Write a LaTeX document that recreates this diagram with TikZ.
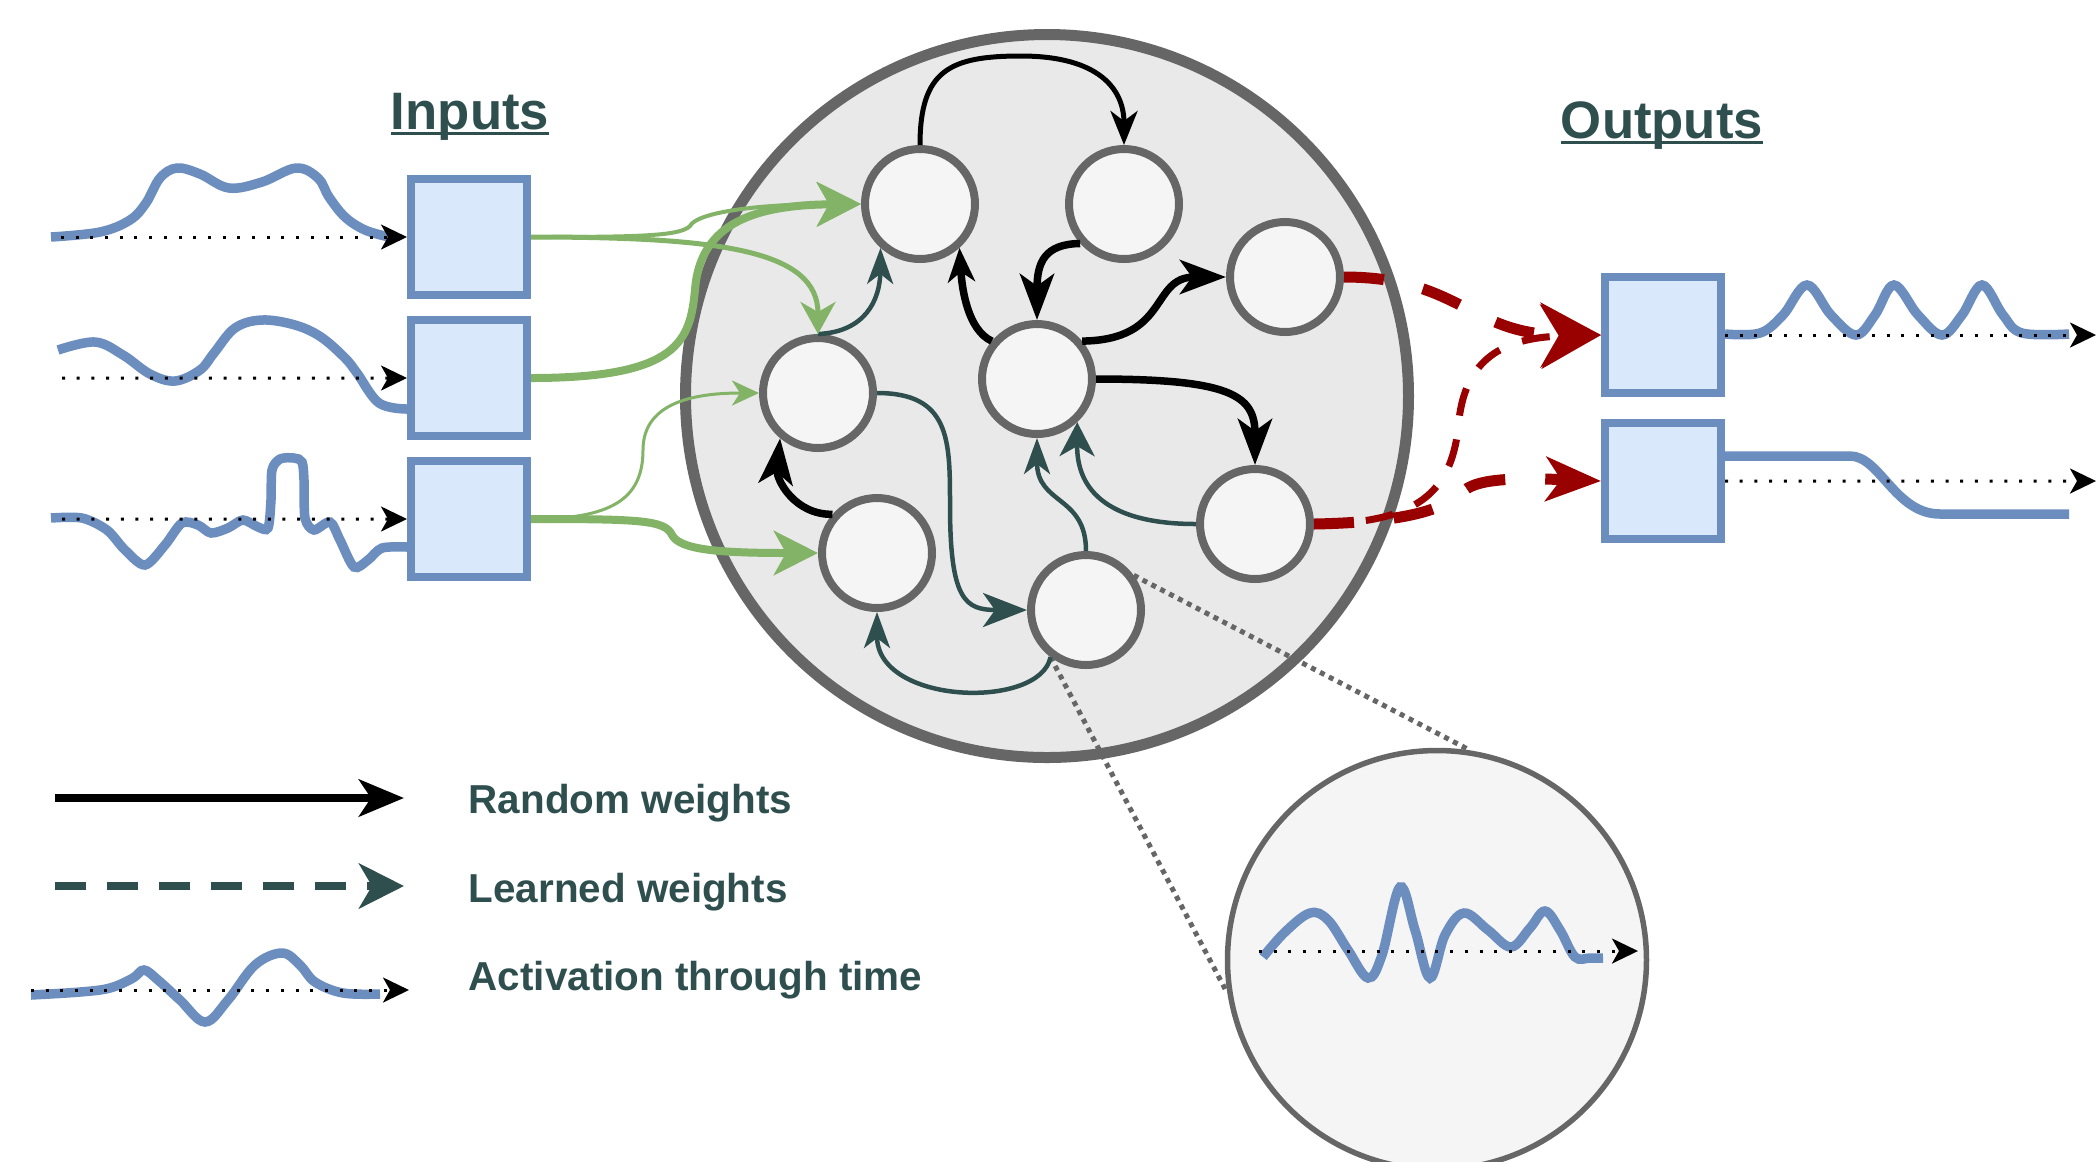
\documentclass[tikz,border=0pt]{standalone}
\usepackage{fontspec}
\setmainfont{Liberation Sans}
\usetikzlibrary{shapes, arrows, positioning}
\usetikzlibrary{arrows.meta}

\definecolor{slate}{HTML}{2F4F4F}
\definecolor{nodegray}{HTML}{666666}
\definecolor{nodefill}{HTML}{F5F5F5}
\definecolor{poolfill}{HTML}{E9E9E9}
\definecolor{boxblue}{HTML}{6C8EBF}
\definecolor{boxfill}{HTML}{DAE8FC}
\definecolor{ingreen}{HTML}{82B366}
\definecolor{outred}{HTML}{990000}

\newcommand{\undertitle}[1]{\setbox0\hbox{#1}\rlap{\rule[-0.11em]{\wd0}{0.06em}}\box0}

\begin{document}
\begin{tikzpicture}[
    x=0.1mm, y=-0.1mm,
    pool/.style={circle, draw=nodegray, fill=poolfill, line width=1.1mm, minimum size=72.3mm, inner sep=0pt},
    neuron/.style={circle, draw=nodegray, fill=nodefill, line width=0.8mm, minimum size=11mm, inner sep=0pt},
    zoomview/.style={circle, draw=nodegray, fill=nodefill, line width=0.55mm, minimum size=41.9mm, inner sep=0pt},
    iobox/.style={rectangle, draw=boxblue, fill=boxfill, line width=0.8mm, minimum size=11.6mm, inner sep=0pt},
    wave/.style={draw=boxblue, line width=0.95mm},
    timeaxis/.style={draw=black, line width=0.3mm, dash pattern=on 0.3mm off 1.17mm, -{Stealth[length=2.6mm, width=2.5mm, inset=0.7mm]}},
    randline/.style={draw=black, line width=0.75mm, -{Stealth[length=4.6mm, width=3.4mm, inset=1.2mm]}},
    thinrand/.style={draw=black, line width=0.5mm, -{Stealth[length=3.4mm, width=2.7mm, inset=1mm]}},
    slateline/.style={draw=slate, line width=0.45mm, -{Stealth[length=3.6mm, width=2.6mm, inset=1mm]}},
    inline/.style={draw=ingreen, line width=0.8mm, -{Stealth[length=4.4mm, width=4.4mm, inset=1.2mm]}},
    readout/.style={draw=outred, line width=1.1mm, dash pattern=on 4mm off 4mm, -{Stealth[length=6mm, width=6.4mm, inset=1.8mm]}},
    zoomline/.style={draw=nodegray, line width=0.5mm, dash pattern=on 0.5mm off 0.5mm},
    headtext/.style={font=\fontsize{15}{18}\selectfont\bfseries, text=slate, inner sep=0pt, anchor=base},
    legendtext/.style={font=\fontsize{11.5}{14}\selectfont\bfseries, text=slate, inner sep=0pt, anchor=base west}
]
\useasboundingbox (0,0) rectangle (2096,1161);
\clip (0,0) rectangle (2096,1161);
\fill[white] (0,0) rectangle (2096,1161);

\node [headtext] (inputsttl) at (470,129) {\undertitle{Inputs}};
\node [headtext] (outputsttl) at (1662,138) {\undertitle{Outputs}};

\node [pool] (pool) at (1047,396) {};
\node [neuron] (n1) at (920,204) {};
\node [neuron] (n2) at (1124,204) {};
\node [neuron] (n3) at (1285,277) {};
\node [neuron] (n4) at (818,393) {};
\node [neuron] (n5) at (1037,379) {};
\node [neuron] (n6) at (877,553) {};
\node [neuron] (n7) at (1255,524) {};
\node [neuron] (n8) at (1086,610) {};

\node [iobox] (in1) at (469,237) {};
\node [iobox, below=1.7mm of in1] (in2) {};
\node [iobox, below=1.7mm of in2] (in3) {};
\node [iobox] (out1) at (1663,335) {};
\node [iobox, below=2.2mm of out1] (out2) {};

\node [zoomview] (zoom) at (1437,960) {};
\path [zoomline] (n8.36) -- (zoom.81);
\path [zoomline] (n8.233) -- (zoom.189);

\draw [wave] plot[smooth, tension=0.6] coordinates {(51,237) (100,232) (130,220) (146,203) (160,178) (177,168) (200,174) (229,188) (262,182) (296,168) (318,178) (329,197) (345,217) (365,230) (389,237)};
\draw [wave] plot[smooth, tension=0.6] coordinates {(58,350) (95,342) (123,355) (150,374) (175,381) (200,370) (214,353) (235,328) (262,320) (295,325) (321,337) (345,358) (357,373) (379,403) (407,409)};
\draw [wave] plot[smooth, tension=0.5] coordinates {(51,518) (82,518) (107,530) (125,550) (145,565) (165,545) (182,523) (198,525) (211,533) (228,528) (243,520) (258,527) (268,528) (271,500) (272,470) (280,459) (294,458) (302,462) (304,480) (305,518) (314,530) (330,522) (340,540) (354,567) (368,560) (382,548) (407,547)};
\draw [wave] plot[smooth, tension=0.6] coordinates {(1725,334) (1760,333) (1783,315) (1807,285) (1831,315) (1856,335) (1875,315) (1894,285) (1918,315) (1942,335) (1962,315) (1982,285) (2003,315) (2022,333) (2069,334)};
\draw [wave] (1725,456) -- (1850,456) .. controls (1880,456) and (1895,514) .. (1940,514) -- (2069,514);
\draw [wave] plot[smooth, tension=0.6] coordinates {(1263,957) (1285,932) (1310,913) (1328,920) (1348,950) (1368,978) (1382,955) (1400,887) (1415,930) (1430,978) (1445,935) (1464,913) (1488,930) (1511,947) (1530,928) (1545,911) (1560,930) (1575,957) (1590,958) (1603,958)};

\coordinate (t1) at (61,237);
\coordinate (t2) at (62,378);
\coordinate (t3) at (62,519);
\coordinate (u1) at (2096,335);
\coordinate (u2) at (2096,481);
\coordinate (z0) at (1259,951);
\coordinate (z1) at (1638,951);
\path [timeaxis] (t1) -- (in1.west);
\path [timeaxis] (t2) -- (in2.west);
\path [timeaxis] (t3) -- (in3.west);
\path [timeaxis] (out1.east) -- (u1);
\path [timeaxis] (out2.east) -- (u2);
\path [timeaxis] (z0) -- (z1);

\path [thinrand] (n1.north) .. controls (920,70) and (950,56) .. (1021,56) .. controls (1100,56) and (1124,90) .. (n2.north);
\path [randline] (n2.222) .. controls (1045,244) and (1037,262) .. (n5.north);
\path [randline, -{Stealth[length=3.4mm, width=2.7mm, inset=1mm]}] (n5.140) .. controls (968,330) and (962,290) .. (n1.-48);
\path [randline] (n5.40) .. controls (1170,340) and (1150,277) .. (n3.west);
\path [randline] (n5.east) .. controls (1230,379) and (1255,395) .. (n7.north);
\path [randline] (n6.139) .. controls (795,515) and (776,480) .. (n4.230);

\path [slateline] (n4.north) .. controls (865,332) and (880,300) .. (n1.228);
\path [slateline, -{Stealth[length=4.4mm, width=3.4mm, inset=1.2mm]}] (n4.east) .. controls (950,393) and (950,440) .. (950,505) .. controls (950,600) and (965,610) .. (n8.west);
\path [slateline] (n8.233) .. controls (1040,710) and (877,705) .. (n6.south);
\path [slateline] (n8.north) .. controls (1086,495) and (1037,505) .. (n5.south);
\path [slateline, -{Stealth[length=3.4mm, width=3.5mm, inset=1mm]}] (n7.west) .. controls (1085,524) and (1077,470) .. (n5.-47);

\path [inline, line width=0.4mm] (in1.east) .. controls (640,237) and (680,236) .. (690,226) .. controls (697,212) and (760,204) .. (n1.west);
\path [inline] (in2.east) .. controls (680,378) and (690,340) .. (695,290) .. controls (700,220) and (760,205) .. (n1.west);
\path [inline, line width=0.5mm, -{Stealth[length=3.2mm, width=3.5mm, inset=1mm]}] (in1.east) .. controls (720,237) and (818,250) .. (n4.north);
\path [inline, line width=0.3mm, -{Stealth[length=2.7mm, width=2.5mm, inset=0.8mm]}] (in3.east) .. controls (610,519) and (643,500) .. (643,450) .. controls (643,400) and (700,393) .. (n4.west);
\path [inline] (in3.east) .. controls (640,519) and (665,520) .. (672,535) .. controls (680,550) and (720,553) .. (n6.west);

\path [readout, line width=0.7mm, dash pattern=on 2.8mm off 2.4mm] (n7.east) .. controls (1420,524) and (1450,490) .. (1458,430) .. controls (1462,370) and (1490,338) .. (out1.west);
\path [readout] (n3.east) .. controls (1460,277) and (1470,335) .. (out1.west);
\path [readout, -{Stealth[length=5.5mm, width=4.4mm, inset=1.5mm]}] (n7.east) .. controls (1420,522) and (1450,505) .. (1465,490) .. controls (1480,478) and (1520,478) .. (out2.west);

\coordinate (lr0) at (55,798);
\coordinate (lr1) at (404,798);
\coordinate (ll0) at (55,886);
\coordinate (ll1) at (404,886);
\coordinate (la0) at (31,990);
\coordinate (la1) at (409,990);
\path [randline, line width=0.8mm, -{Stealth[length=4.5mm, width=3.7mm, inset=1.2mm]}] (lr0) -- (lr1);
\path [draw=slate, line width=0.8mm, dash pattern=on 3.1mm off 2.1mm, -{Stealth[length=4.5mm, width=4.5mm, inset=1.3mm]}] (ll0) -- (ll1);
\draw [wave] plot[smooth, tension=0.6] coordinates {(31,995) (80,992) (110,988) (133,978) (144,970) (158,980) (180,1000) (205,1022) (228,1000) (255,965) (282,953) (300,965) (315,982) (343,993) (380,994)};
\path [timeaxis] (la0) -- (la1);
\node [legendtext] (lrtext) at (468,813) {Random weights};
\node [legendtext] (lltext) at (468,902) {Learned weights};
\node [legendtext] (latext) at (468,990) {Activation through time};

\end{tikzpicture}
\end{document}
